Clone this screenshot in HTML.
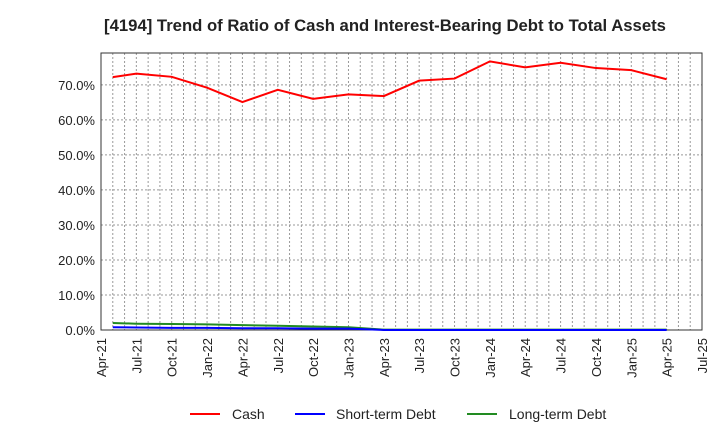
<!DOCTYPE html>
<html><head><meta charset="utf-8"><style>
body{margin:0;background:#fff;font-family:"Liberation Sans",sans-serif}
</style></head><body>
<svg id="c" width="720" height="440" xmlns="http://www.w3.org/2000/svg">
<text x="385" y="31" text-anchor="middle" font-size="16.7" font-weight="bold" fill="#222">[4194]  Trend of Ratio of Cash and Interest-Bearing Debt to Total Assets</text>
<g id="grid"></g><g id="axes"></g><g id="series"></g>
<g font-size="14" fill="#222">
<line x1="190" y1="414" x2="220" y2="414" stroke="#f00" stroke-width="2"/><text x="232" y="419">Cash</text>
<line x1="295" y1="414" x2="325" y2="414" stroke="#00f" stroke-width="2"/><text x="336" y="419">Short-term Debt</text>
<line x1="467" y1="414" x2="497" y2="414" stroke="#228b22" stroke-width="2"/><text x="509" y="419">Long-term Debt</text>
</g>
</svg>
<script>
const xTickLabels=["Apr-21","Jul-21","Oct-21","Jan-22","Apr-22","Jul-22","Oct-22","Jan-23","Apr-23","Jul-23","Oct-23","Jan-24","Apr-24","Jul-24","Oct-24","Jan-25","Apr-25","Jul-25"];
const yTicks=[0,10,20,30,40,50,60,70];
const months=[1,3,6,9,12,15,18,21,24,27,30,33,36,39,42,45,48];
const cash=[72.2,73.2,72.3,69.2,65.1,68.6,66.0,67.3,66.8,71.2,71.8,76.7,75.0,76.3,74.8,74.2,71.6];
const shortDebt=[0.8,0.7,0.6,0.6,0.5,0.5,0.4,0.4,0,0,0,0,0,0,0,0,0];
const longDebt=[2.0,1.8,1.7,1.6,1.4,1.2,1.0,0.8,0.1,0.1,0.1,0.1,0.1,0.1,0.1,0.1,0.1];
const L=101,R=702,T=53,B=330,ymax=79.1;
const X=m=>L+(R-L)*m/51, Y=v=>B-(B-T)*v/ymax;
const NS="http://www.w3.org/2000/svg";
function mk(p,t,a){const e=document.createElementNS(NS,t);for(const k in a)e.setAttribute(k,a[k]);p.appendChild(e);return e;}
const g=document.getElementById('grid'),ax=document.getElementById('axes'),s=document.getElementById('series');
for(let m=1;m<51;m++){const l=mk(g,'line',{x1:X(m),x2:X(m),y1:T,y2:B,stroke:'#999','stroke-dasharray':'2,2','stroke-width':1});

}
yTicks.forEach(v=>{if(v>0){const l=mk(g,'line',{x1:L,x2:R,y1:Y(v),y2:Y(v),stroke:'#999','stroke-dasharray':'2,2'});

}
const t=mk(ax,'text',{x:L-6,y:Y(v)+5,'text-anchor':'end','font-size':13,fill:'#222'});t.textContent=v.toFixed(1)+'%';

});
const fr=mk(ax,'rect',{x:L,y:T,width:R-L,height:B-T,fill:'none',stroke:'#333'});


xTickLabels.forEach((lab,i)=>{const x=X(i*3);const t=mk(ax,'text',{transform:`translate(${x+5},${B+8}) rotate(-90)`,'text-anchor':'end','font-size':13,fill:'#222'});t.textContent=lab;

});
[[longDebt,'#228b22','long-term-debt-line'],[shortDebt,'#00f','short-term-debt-line'],[cash,'#f00','cash-line']].forEach(([d,c,n])=>{
const p=mk(s,'polyline',{points:d.map((v,i)=>X(months[i])+','+Y(v)).join(' '),fill:'none',stroke:c,'stroke-width':2});

});
</script>
</body></html>
